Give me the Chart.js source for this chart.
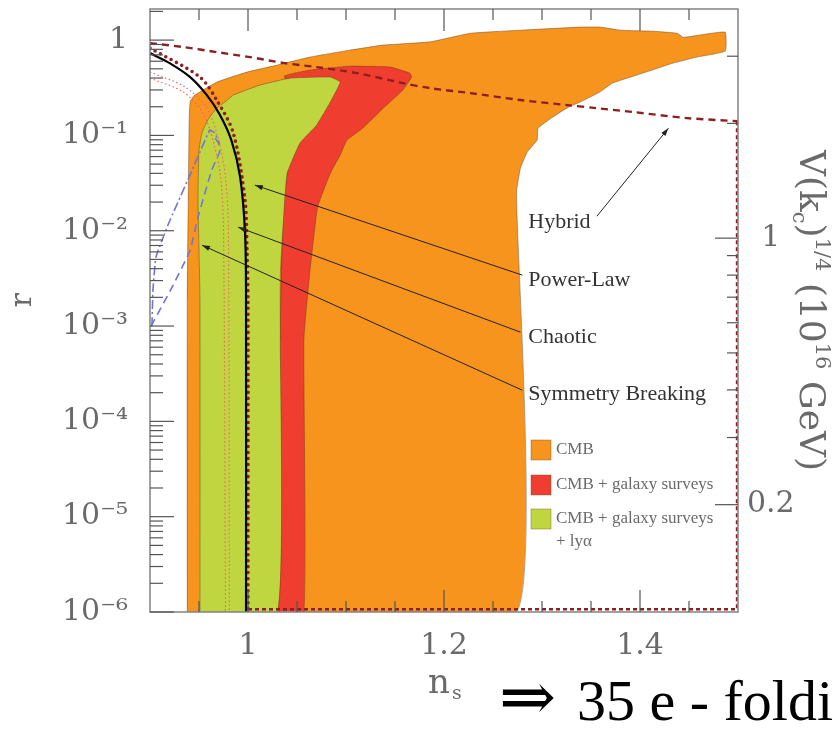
<!DOCTYPE html>
<html>
<head>
<meta charset="utf-8">
<script src="https://cdn.jsdelivr.net/npm/chart.js@4.4.1/dist/chart.umd.min.js"></script>
<style>
  html, body { margin: 0; padding: 0; background: #fff; }
  #wrap { position: relative; width: 833px; height: 734px; }
</style>
</head>
<body>
<div id="wrap"><canvas id="nsr"></canvas></div>
<script>
// axis ticks
const nsTicks = [1, 1.2, 1.4];
const nsLabels = ['1', '1.2', '1.4'];
const rTicks = [1e-6, 1e-5, 1e-4, 1e-3, 1e-2, 1e-1, 1];
const rLabels = ['10⁻⁶', '10⁻⁵', '10⁻⁴', '10⁻³', '10⁻²', '10⁻¹', '1'];
const vTicks = [0.2, 1];
const vLabels = ['0.2', '1'];

// allowed regions in the (n_s, r) plane, closed outlines
const cmbRegion = [
  [0.938, 1e-6], [0.938, 0.0019], [0.939, 0.02], [0.940, 0.15], [0.941, 0.225],
  [0.945, 0.262], [0.968, 0.362], [0.999, 0.462], [1.030, 0.547], [1.063, 0.663],
  [1.104, 0.785], [1.138, 0.886], [1.186, 0.96], [1.227, 1.18], [1.278, 1.27],
  [1.339, 1.37], [1.359, 1.37], [1.380, 1.27], [1.413, 1.24], [1.438, 1.18],
  [1.444, 1.07], [1.468, 1.16], [1.487, 1.21], [1.487, 0.767], [1.458, 0.663],
  [1.434, 0.574], [1.397, 0.43], [1.372, 0.354], [1.359, 0.285], [1.339, 0.224],
  [1.327, 0.198], [1.311, 0.156], [1.296, 0.119], [1.295, 0.0893], [1.285, 0.0668],
  [1.278, 0.0454], [1.274, 0.0254], [1.274, 1e-6], [0.938, 1e-6]
];
const galaxyRegion = [
  [1.030, 1e-6], [1.033, 0.001], [1.036, 0.02], [1.045, 0.1], [1.045, 0.3],
  [1.037, 0.419], [1.063, 0.484], [1.104, 0.533], [1.145, 0.521], [1.165, 0.451],
  [1.167, 0.409], [1.158, 0.299], [1.138, 0.193], [1.117, 0.119], [1.101, 0.0893],
  [1.094, 0.0621], [1.084, 0.0402], [1.071, 0.0177], [1.063, 0.00359], [1.057, 0.000711],
  [1.057, 1e-6], [1.030, 1e-6]
];
const lyaRegion = [
  [0.951, 1e-6], [0.951, 0.00187], [0.949, 0.0209], [0.950, 0.07], [0.953, 0.106],
  [0.959, 0.145], [0.968, 0.193], [0.979, 0.235], [0.985, 0.265], [1.012, 0.337],
  [1.043, 0.399], [1.084, 0.409], [1.094, 0.362], [1.084, 0.224], [1.070, 0.128],
  [1.053, 0.083], [1.040, 0.0402], [1.037, 0.0177], [1.033, 0.00359], [1.033, 0.000711],
  [1.030, 1e-6], [0.951, 1e-6]
];

// model curves
const chaoticCurve = [
  [0.9, 0.731], [0.920, 0.574], [0.941, 0.409], [0.958, 0.265], [0.971, 0.167],
  [0.983, 0.0893], [0.992, 0.0365], [0.997, 0.00944], [0.998, 0.00187], [0.998, 1e-6]
];
const hybridCurve = [
  [0.9, 0.824], [0.951, 0.409], [0.968, 0.235], [0.985, 0.106], [0.997, 0.0209],
  [0.999, 0.00625], [1.0, 0.00187], [1.0, 1.07e-6]
];
const hybridBox = [[1.0, 1.07e-6], [1.499, 1.07e-6], [1.499, 0.141]];
const hybridTop = [
  [0.9, 0.93], [0.934, 0.845], [0.968, 0.748], [1.002, 0.663], [1.037, 0.574],
  [1.070, 0.521], [1.111, 0.451], [1.158, 0.354], [1.186, 0.313], [1.227, 0.278],
  [1.278, 0.235], [1.326, 0.208], [1.356, 0.193], [1.393, 0.176], [1.448, 0.152],
  [1.5, 0.141]
];
const powerLawOuter = [
  [0.9, 0.462], [0.936, 0.321], [0.958, 0.193], [0.970, 0.0893], [0.977, 0.0365],
  [0.980, 0.0101], [0.981, 1e-6]
];
const powerLawInner = [
  [0.9, 0.399], [0.934, 0.285], [0.954, 0.171], [0.965, 0.083], [0.972, 0.0365],
  [0.975, 0.0101], [0.977, 1e-6]
];
const symBreakA = [
  [0.902, 0.001], [0.903, 0.00238], [0.906, 0.00525], [0.918, 0.0113], [0.943, 0.0433],
  [0.961, 0.114], [0.966, 0.106], [0.971, 0.0821]
];
const symBreakB = [
  [0.901, 0.001], [0.921, 0.00238], [0.941, 0.00625], [0.949, 0.0139], [0.963, 0.0433],
  [0.971, 0.0668], [0.970, 0.083], [0.964, 0.101]
];

// labelled arrows
const modelNames = ['Hybrid', 'Power-Law', 'Chaotic', 'Symmetry Breaking'];
const labelAt = [[1.286, 0.0123], [1.286, 0.00303], [1.286, 0.000765], [1.286, 0.000193]];
const arrowFrom = [[1.356, 0.0142], [1.280, 0.00342], [1.278, 0.000863], [1.280, 0.000212]];
const arrowTo = [[1.429, 0.119], [1.007, 0.0301], [0.990, 0.0109], [0.953, 0.00706]];

const legendNames = ['CMB', 'CMB + galaxy surveys', 'CMB + galaxy surveys'];

const ORANGE = '#f7941e';
const RED = '#ef3e30';
const GREEN = '#bfd641';
const DARKRED = '#8e1f1f';
const BLUE = '#7474d6';

const pts = a => a.map(([x, y]) => ({x, y}));

function region(data, color, order) {
  return {
    data: pts(data), fill: 'shape', backgroundColor: color,
    borderColor: 'rgba(90,55,20,0.55)', borderWidth: 0.8,
    pointRadius: 0, tension: 0.12, order
  };
}
function curve(data, color, width, dash, order, extra) {
  return Object.assign({
    data: pts(data), fill: false, borderColor: color, borderWidth: width,
    borderDash: dash, pointRadius: 0, tension: 0.3, order
  }, extra || {});
}

// the plot box is fixed, so drop the padding Chart.js reserves for edge labels
function fixVertical(width) {
  return s => { s.width = width; s.paddingTop = 0; s.paddingBottom = 0; };
}

const decor = {
  id: 'decor',
  afterDatasetsDraw(chart) {
    const {ctx, chartArea: a, scales: {x, y, v}} = chart;
    const seg = (x0, y0, x1, y1) => { ctx.beginPath(); ctx.moveTo(x0, y0); ctx.lineTo(x1, y1); ctx.stroke(); };
    ctx.save();
    ctx.strokeStyle = '#8a8a8a';
    ctx.lineWidth = 1.6;
    ctx.strokeRect(a.left, a.top, a.right - a.left, a.bottom - a.top);

    ctx.strokeStyle = '#555';
    ctx.lineWidth = 1.2;
    // n_s ticks every 0.05 on top and bottom
    for (let i = 1; i < 12; i++) {
      const val = 0.9 + i * 0.05;
      const px = x.getPixelForValue(val);
      const len = nsTicks.some(t => Math.abs(t - val) < 1e-6) ? 22 : 11;
      seg(px, a.bottom, px, a.bottom - len);
      seg(px, a.top, px, a.top + len);
    }
    // log ticks for r on the left
    for (let e = -6; e <= 0; e++) {
      for (let m = 1; m <= 9; m++) {
        const val = m * Math.pow(10, e);
        if (val > y.max) continue;
        const py = y.getPixelForValue(val);
        seg(a.left, py, a.left + (m === 1 ? 24 : 13), py);
      }
    }
    // ticks of V^(1/4) on the right
    [0.2, 0.3, 0.4, 0.5, 0.6, 0.7, 0.8, 0.9, 1, 2, 3].forEach(val => {
      const py = v.getPixelForValue(val);
      seg(a.right, py, a.right - (vTicks.includes(val) ? 23 : 11), py);
    });
    ctx.restore();
  },
  afterDraw(chart) {
    const {ctx, scales: {x, y}} = chart;
    ctx.save();

    // axis titles
    ctx.fillStyle = '#6a6a6a';
    ctx.textBaseline = 'alphabetic';
    ctx.save();
    ctx.translate(31, 300);
    ctx.rotate(-Math.PI / 2);
    ctx.font = '30px "DejaVu Serif"';
    ctx.textAlign = 'center';
    ctx.fillText('r', 0, 0);
    ctx.restore();

    ctx.textAlign = 'left';
    ctx.font = '34px "DejaVu Serif"';
    ctx.fillText('n', 428, 693);
    ctx.font = '19px "DejaVu Serif"';
    ctx.fillText('s', 452, 699);

    // right axis title, reading downwards
    ctx.save();
    ctx.translate(800, 150);
    ctx.rotate(Math.PI / 2);
    let cx = 0;
    const put = (t, size, dy) => {
      ctx.font = size + 'px "DejaVu Serif"';
      ctx.fillText(t, cx, dy);
      cx += ctx.measureText(t).width;
    };
    put('V(k', 36, 0); put('c', 21, 7); put(')', 36, 0); put('1/4', 21, -16);
    put(' (10', 36, 0); put('16', 21, -16); put(' GeV)', 36, 0);
    ctx.restore();

    // labelled arrows
    ctx.strokeStyle = '#222';
    ctx.fillStyle = '#222';
    ctx.lineWidth = 1;
    modelNames.forEach((name, i) => {
      const x0 = x.getPixelForValue(arrowFrom[i][0]), y0 = y.getPixelForValue(arrowFrom[i][1]);
      const x1 = x.getPixelForValue(arrowTo[i][0]), y1 = y.getPixelForValue(arrowTo[i][1]);
      const ang = Math.atan2(y1 - y0, x1 - x0);
      const c = Math.cos(ang), s = Math.sin(ang);
      ctx.beginPath(); ctx.moveTo(x0, y0); ctx.lineTo(x1, y1); ctx.stroke();
      ctx.beginPath();
      ctx.moveTo(x1, y1);
      ctx.lineTo(x1 - 8 * c + 2.6 * s, y1 - 8 * s - 2.6 * c);
      ctx.lineTo(x1 - 8 * c - 2.6 * s, y1 - 8 * s + 2.6 * c);
      ctx.closePath(); ctx.fill();
    });
    ctx.fillStyle = '#333';
    ctx.font = '22px "Liberation Serif"';
    ctx.textBaseline = 'middle';
    modelNames.forEach((name, i) => {
      ctx.fillText(name, x.getPixelForValue(labelAt[i][0]), y.getPixelForValue(labelAt[i][1]));
    });

    // legend
    const swatches = [ORANGE, RED, GREEN];
    const rows = [450, 485, 519];
    ctx.font = '17px "Liberation Serif"';
    swatches.forEach((col, i) => {
      ctx.fillStyle = col;
      ctx.fillRect(531, rows[i] - 10, 20, 20);
      ctx.strokeStyle = 'rgba(120,80,40,0.5)';
      ctx.lineWidth = 0.8;
      ctx.strokeRect(531, rows[i] - 10, 20, 20);
      ctx.fillStyle = '#6a6a6a';
      ctx.fillText(legendNames[i], 556, rows[i]);
    });
    ctx.fillText('+ lyα', 556, 542);

    // remark under the plot
    ctx.fillStyle = '#000';
    ctx.textBaseline = 'alphabetic';
    ctx.font = '68px "DejaVu Serif"';
    ctx.fillText('⇒', 499, 720);
    ctx.font = '58px "Liberation Serif"';
    ctx.fillText('35 e - foldings', 577, 720);
    ctx.restore();
  }
};

new Chart(document.getElementById('nsr'), {
  type: 'line',
  data: {
    datasets: [
      curve(chaoticCurve, '#000', 2.2, [], 1),
      curve(hybridCurve, DARKRED, 3.6, [0, 6], 2, {borderCapStyle: 'round'}),
      curve(hybridBox, DARKRED, 2.4, [4, 3], 2, {tension: 0}),
      curve(hybridTop, DARKRED, 2.4, [7, 5], 2),
      curve(powerLawOuter, '#f26060', 1.1, [1.5, 2.5], 3),
      curve(powerLawInner, '#f26060', 1.1, [1.5, 2.5], 3),
      curve(symBreakA, BLUE, 1.6, [9, 3, 2, 3], 3, {tension: 0.1}),
      curve(symBreakB, BLUE, 1.6, [8, 5], 3, {tension: 0.1}),
      region(lyaRegion, GREEN, 8),
      region(galaxyRegion, RED, 9),
      region(cmbRegion, ORANGE, 10)
    ]
  },
  options: {
    responsive: true,
    maintainAspectRatio: false,
    animation: false,
    events: [],
    layout: {padding: {top: 9, left: 0, right: 0, bottom: 0}},
    plugins: {legend: {display: false}, tooltip: {enabled: false}},
    scales: {
      x: {
        type: 'linear', min: 0.9, max: 1.5,
        grid: {display: false, drawTicks: false},
        border: {display: false},
        afterBuildTicks: s => { s.ticks = nsTicks.map(value => ({value})); },
        afterFit: s => { s.height = 122; s.paddingLeft = 0; s.paddingRight = 0; },
        ticks: {
          padding: 16, color: '#6a6a6a',
          font: {family: 'DejaVu Serif', size: 30},
          callback: (val, i) => nsLabels[i]
        }
      },
      y: {
        type: 'logarithmic', position: 'left', min: 1e-6, max: 2.12,
        grid: {display: false, drawTicks: false},
        border: {display: false},
        afterBuildTicks: s => { s.ticks = rTicks.map(value => ({value})); },
        afterFit: fixVertical(150),
        ticks: {
          padding: 22, color: '#6a6a6a',
          font: {family: 'DejaVu Serif', size: 30},
          callback: (val, i) => rLabels[i]
        }
      },
      v: {
        type: 'logarithmic', position: 'right', min: 0.1046, max: 3.99,
        grid: {display: false, drawTicks: false},
        border: {display: false},
        afterBuildTicks: s => { s.ticks = vTicks.map(value => ({value})); },
        afterFit: fixVertical(95),
        ticks: {
          padding: 9, crossAlign: 'center', color: '#6a6a6a',
          font: {family: 'DejaVu Serif', size: 30},
          callback: (val, i) => vLabels[i]
        }
      }
    }
  },
  plugins: [decor]
});
</script>
</body>
</html>
